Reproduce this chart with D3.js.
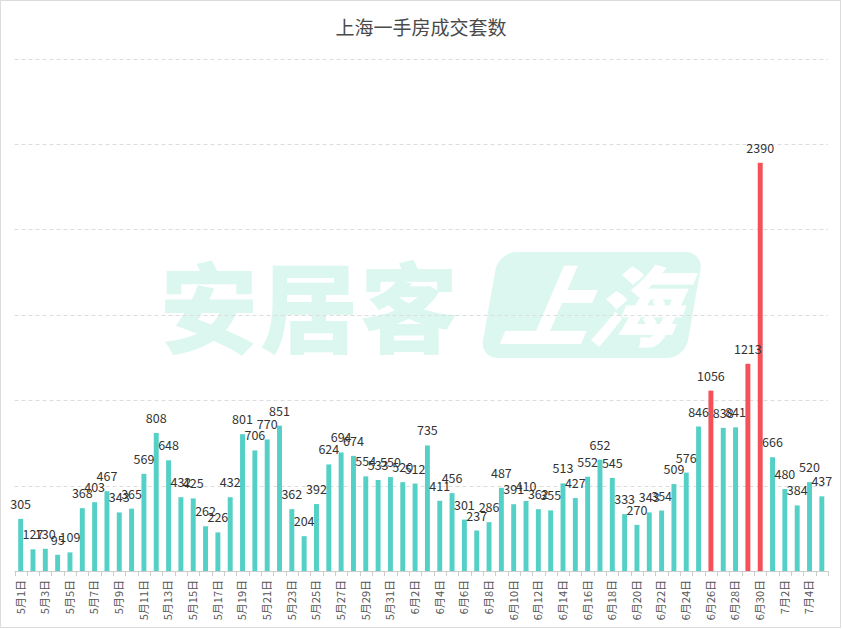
<!DOCTYPE html>
<html>
<head>
<meta charset="utf-8">
<script src="https://cdn.jsdelivr.net/npm/d3@7/dist/d3.min.js"></script>
<style>
  body { margin: 0; background: #fff; }
  svg { display: block; font-family: "Microsoft YaHei", "Noto Sans CJK SC", "Noto Sans", sans-serif; }
</style>
</head>
<body>
<svg id="chart" width="842" height="629"></svg>
<script>
// daily first-hand sales, 2018-05-01 .. 2018-07-05
var months = [5, 6, 7];
var monthDays = [31, 30, 5];
var values = [
  305, 127, 130, 95, 109, 368, 403, 467, 343, 365,
  569, 808, 648, 432, 425, 262, 226, 432, 801, 706,
  770, 851, 362, 204, 392, 624, 694, 674, 554, 533,
  550, 520, 512, 735, 411, 456, 301, 237, 286, 487,
  391, 410, 362, 355, 513, 427, 552, 652, 545, 333,
  270, 343, 354, 509, 576, 846, 1056, 838, 841, 1213,
  2390, 666, 480, 384, 520, 437
];
var highlight = ["6月26日", "6月29日", "6月30日"];
var yTicks = [500, 1000, 1500, 2000, 2500, 3000];

var days = [];
months.forEach(function (m, i) {
  for (var d = 1; d <= monthDays[i]; d++) days.push(m + "月" + d + "日");
});
var data = days.map(function (d, i) { return { day: d, value: values[i] }; });

var svg = d3.select("#chart");
var plotLeft = 14.5, plotRight = 828, plotTop = 58.6, base = 571;

var x = d3.scaleBand().domain(days).range([plotLeft, plotRight])
    .paddingInner(0.6).paddingOuter(0.3);
var y = d3.scaleLinear().domain([0, 3000]).range([base, plotTop]);

// frame
svg.append("rect").attr("x", 0.5).attr("y", 0.5).attr("width", 840).attr("height", 627)
    .attr("fill", "#fff").attr("stroke", "#dcdcdc");

// watermark
var wm = svg.append("g").attr("class", "watermark");
wm.append("text").attr("x", 160).attr("y", 345)
    .attr("font-size", 98).attr("font-weight", 900)
    .attr("fill", "#dcf7ef").attr("letter-spacing", 2)
    .text("安居客");
wm.append("rect").attr("x", 497).attr("y", 252).attr("width", 205).attr("height", 106)
    .attr("rx", 18).attr("fill", "#dcf7ef")
    .attr("transform", "skewX(-10) translate(46,0)");
wm.append("text").attr("x", 500).attr("y", 340)
    .attr("font-size", 88).attr("font-weight", 900).attr("font-style", "italic")
    .attr("fill", "#fff").attr("transform", "skewX(-10) translate(58,0)")
    .text("上海");

// grid
svg.append("g").selectAll("line").data(yTicks).join("line")
    .attr("x1", plotLeft).attr("x2", plotRight)
    .attr("y1", function (d) { return Math.round(y(d)) + 0.5; })
    .attr("y2", function (d) { return Math.round(y(d)) + 0.5; })
    .attr("stroke", "#dcdcdc").attr("stroke-dasharray", "4,3");

// bars
svg.append("g").selectAll("rect").data(data).join("rect")
    .attr("x", function (d) { return x(d.day); })
    .attr("width", x.bandwidth())
    .attr("y", function (d) { return y(d.value); })
    .attr("height", function (d) { return base - y(d.value); })
    .attr("fill", function (d) { return highlight.indexOf(d.day) >= 0 ? "#f45158" : "#55d0c6"; });

// value labels
svg.append("g").selectAll("text").data(data).join("text")
    .attr("x", function (d) { return x(d.day) + x.bandwidth() / 2; })
    .attr("y", function (d) { return y(d.value) - 10; })
    .attr("text-anchor", "middle").attr("font-size", 12.5).attr("fill", "#333")
    .text(function (d) { return d.value; });

// x axis
var step = x.step();
var ax = svg.append("g");
ax.append("line").attr("x1", plotLeft).attr("x2", plotRight)
    .attr("y1", base + 0.5).attr("y2", base + 0.5).attr("stroke", "#ccc");
ax.selectAll("line.tick").data(d3.range(days.length + 1)).join("line")
    .attr("class", "tick")
    .attr("x1", function (i) { return Math.round(plotLeft + i * step) + 0.5; })
    .attr("x2", function (i) { return Math.round(plotLeft + i * step) + 0.5; })
    .attr("y1", base).attr("y2", base + 5).attr("stroke", "#ccc");
ax.selectAll("text").data(days.filter(function (d, i) { return i % 2 === 0; })).join("text")
    .attr("transform", function (d) {
      return "translate(" + (x(d) + x.bandwidth() / 2) + "," + (base + 9) + ") rotate(-90)";
    })
    .attr("text-anchor", "end").attr("dy", "0.35em")
    .attr("font-size", 11).attr("fill", "#555")
    .text(function (d) { return d; });

// title
svg.append("text").attr("x", 421).attr("y", 28).attr("dy", "0.35em")
    .attr("text-anchor", "middle").attr("font-size", 19).attr("fill", "#4a4a4a")
    .text("上海一手房成交套数");
</script>
</body>
</html>
